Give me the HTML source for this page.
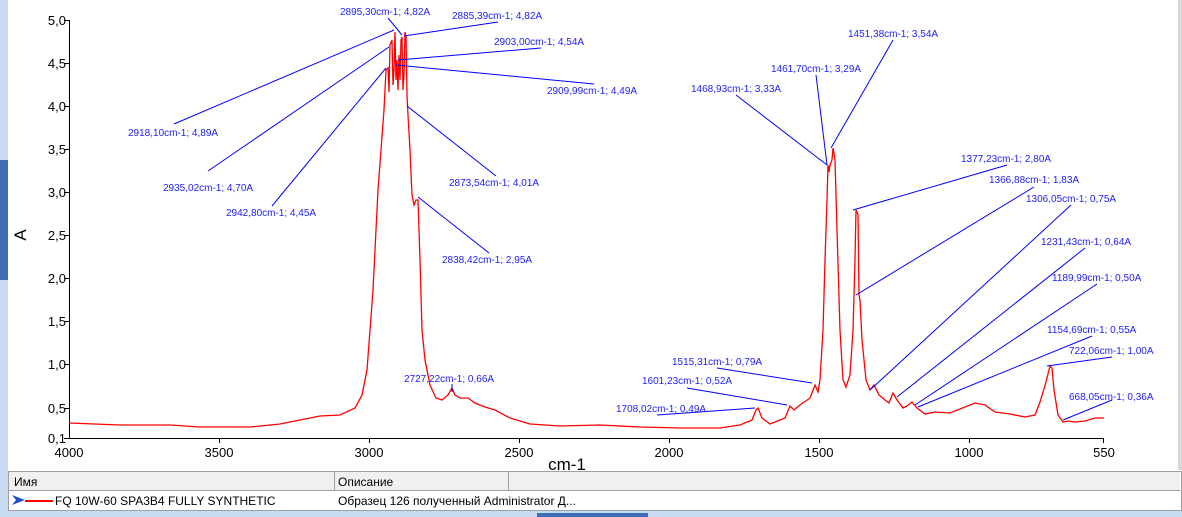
<!DOCTYPE html><html><head><meta charset="utf-8"><style>
body{margin:0;width:1182px;height:517px;overflow:hidden;background:#fff;font-family:"Liberation Sans","Noto Sans CJK SC",sans-serif;position:relative}
.t{position:absolute;font-size:12px;color:#000}
</style></head><body>
<div style="position:absolute;left:0;top:0;width:8px;height:517px;background:#c7daf2"></div>
<div style="position:absolute;left:0;top:160px;width:8px;height:120px;background:#3e6fb6"></div>
<div style="position:absolute;left:1178px;top:0;width:4px;height:470px;background:#d8d8d8"></div>
<div style="position:absolute;left:0;top:510px;width:1182px;height:7px;background:#c7daf2"></div>
<div style="position:absolute;left:537px;top:513px;width:111px;height:4px;background:#3e6fb6"></div>
<svg width="1182" height="470" style="position:absolute;left:0;top:0" font-family="Liberation Sans, sans-serif">
<g stroke="#000" stroke-width="1" fill="none">
<path d="M69.5 20V438.5H1104"/>
<path d="M64 20.5h5M64 63.5h5M64 106.5h5M64 149.5h5M64 192.5h5M64 235.5h5M64 278.5h5M64 321.5h5M64 364.5h5M64 408.5h5M64 438.5h5"/>
<path d="M219.5 438v5M369.5 438v5M519.5 438v5M669.5 438v5M819.5 438v5M969.5 438v5M1103.5 438v5"/>
</g>
<g font-size="13" text-anchor="end" fill="#000">
<text x="66" y="25">5,0</text><text x="66" y="68">4,5</text><text x="66" y="111">4,0</text><text x="66" y="154">3,5</text><text x="66" y="197">3,0</text><text x="66" y="240">2,5</text><text x="66" y="283">2,0</text><text x="66" y="326">1,5</text><text x="66" y="369">1,0</text><text x="66" y="413">0,5</text><text x="66" y="443">0,1</text>
</g>
<g font-size="13" text-anchor="middle" fill="#000">
<text x="69" y="457">4000</text><text x="219" y="457">3500</text><text x="369" y="457">3000</text><text x="519" y="457">2500</text><text x="669" y="457">2000</text><text x="819" y="457">1500</text><text x="969" y="457">1000</text><text x="1104" y="457">550</text>
</g>
<text x="567" y="470" font-size="17" text-anchor="middle">cm-1</text>
<text transform="translate(26,235) rotate(-90)" font-size="17" text-anchor="middle">A</text>
<polyline fill="none" stroke="#f00" stroke-width="1.3" points="69,423 120,425 170,425 200,427 250,427 280,424 300,420 320,416 340,415 355,408 362,395 367,370 370,330 373,290 376,230 378,190 381,150 384,110 386,70 388,68 389,92 390,45 392,40 393,85 394,70 395,32 396,80 397,60 398,90 399,55 400,80 401,40 402,37 403,90 404,75 405,32 406,36 407,95 408,115 410,150 412,195 414,205 416,200 418,200 420,260 422,330 425,360 430,385 436,398 442,400 448,395 452,388 455,395 460,398 468,398 475,403 485,407 495,410 510,418 530,424 560,426 600,425 640,427 680,428 720,428 740,425 752,420 756,410 758,408 762,418 770,424 785,418 790,406 794,410 800,405 810,398 815,385 818,392 820,380 823,330 825,260 827,200 828,165 829,172 830,165 832,160 833,148 835,160 837,230 840,330 843,380 846,387 850,375 853,330 855,260 856,210 857,212 858,215 859,295 860,300 862,340 866,380 870,390 874,385 879,395 885,400 889,403 893,393 897,400 903,408 907,406 912,402 917,408 925,414 935,412 950,413 965,407 975,403 985,405 995,412 1010,414 1025,417 1035,415 1040,402 1046,382 1050,366 1052,368 1054,390 1058,415 1063,422 1068,421 1075,422 1085,421 1095,418 1104,418"/>
<g stroke="#00f" stroke-width="1" fill="none">
<path d="M174 124L394 30M208 171L389 47M272 206L386 68M388 18L402 35M404 36L498 22M398 60L541 48M396 65L594 84M407 106L496 176M418 197L489 253M893 40L831 148M816 75L827 165M736 95L827 165M1007 165L853 210M1034 187L856 295M1071 205L870 390M1085 248L897 397M1097 284L915 405M1092 336L918 407M1112 357L1047 366M1112 400L1063 420M717 368L812 383M687 388L787 405M657 415L755 408M452 384L452 392"/>
</g>
<g font-size="10" fill="#2020ff">
<text x="128" y="136">2918,10cm-1; 4,89A</text>
<text x="163" y="191">2935,02cm-1; 4,70A</text>
<text x="226" y="216">2942,80cm-1; 4,45A</text>
<text x="340" y="15">2895,30cm-1; 4,82A</text>
<text x="452" y="19">2885,39cm-1; 4,82A</text>
<text x="494" y="45">2903,00cm-1; 4,54A</text>
<text x="547" y="94">2909,99cm-1; 4,49A</text>
<text x="449" y="186">2873,54cm-1; 4,01A</text>
<text x="442" y="263">2838,42cm-1; 2,95A</text>
<text x="404" y="382">2727,22cm-1; 0,66A</text>
<text x="848" y="37">1451,38cm-1; 3,54A</text>
<text x="771" y="72">1461,70cm-1; 3,29A</text>
<text x="691" y="92">1468,93cm-1; 3,33A</text>
<text x="961" y="162">1377,23cm-1; 2,80A</text>
<text x="989" y="183">1366,88cm-1; 1,83A</text>
<text x="1026" y="202">1306,05cm-1; 0,75A</text>
<text x="1041" y="245">1231,43cm-1; 0,64A</text>
<text x="1052" y="281">1189,99cm-1; 0,50A</text>
<text x="1047" y="333">1154,69cm-1; 0,55A</text>
<text x="1069" y="354">722,06cm-1; 1,00A</text>
<text x="1069" y="400">668,05cm-1; 0,36A</text>
<text x="672" y="365">1515,31cm-1; 0,79A</text>
<text x="642" y="384">1601,23cm-1; 0,52A</text>
<text x="616" y="412">1708,02cm-1; 0,49A</text>
</g>
</svg>
<div style="position:absolute;left:8px;top:471px;width:1172px;height:38px;border:1px solid #a0a0a0;background:#fff"></div>
<div style="position:absolute;left:9px;top:472px;width:1171px;height:18px;background:#f0f0f0;border-bottom:1px solid #a0a0a0"></div>
<div style="position:absolute;left:334px;top:472px;width:1px;height:18px;background:#a0a0a0"></div>
<div style="position:absolute;left:508px;top:472px;width:1px;height:18px;background:#a0a0a0"></div>
<div class="t" style="left:14px;top:475px">Имя</div>
<div class="t" style="left:338px;top:475px">Описание</div>
<svg width="20" height="12" style="position:absolute;left:11px;top:494px"><path d="M1 1L14 6L1 11L5 6Z" fill="#2050c0"/></svg>
<div style="position:absolute;left:25px;top:500px;width:28px;height:2px;background:#f00"></div>
<div class="t" style="left:55px;top:494px">FQ 10W-60 SPA3B4 FULLY SYNTHETIC</div>
<div class="t" style="left:338px;top:494px">Образец 126 полученный Administrator Д...</div>
</body></html>
